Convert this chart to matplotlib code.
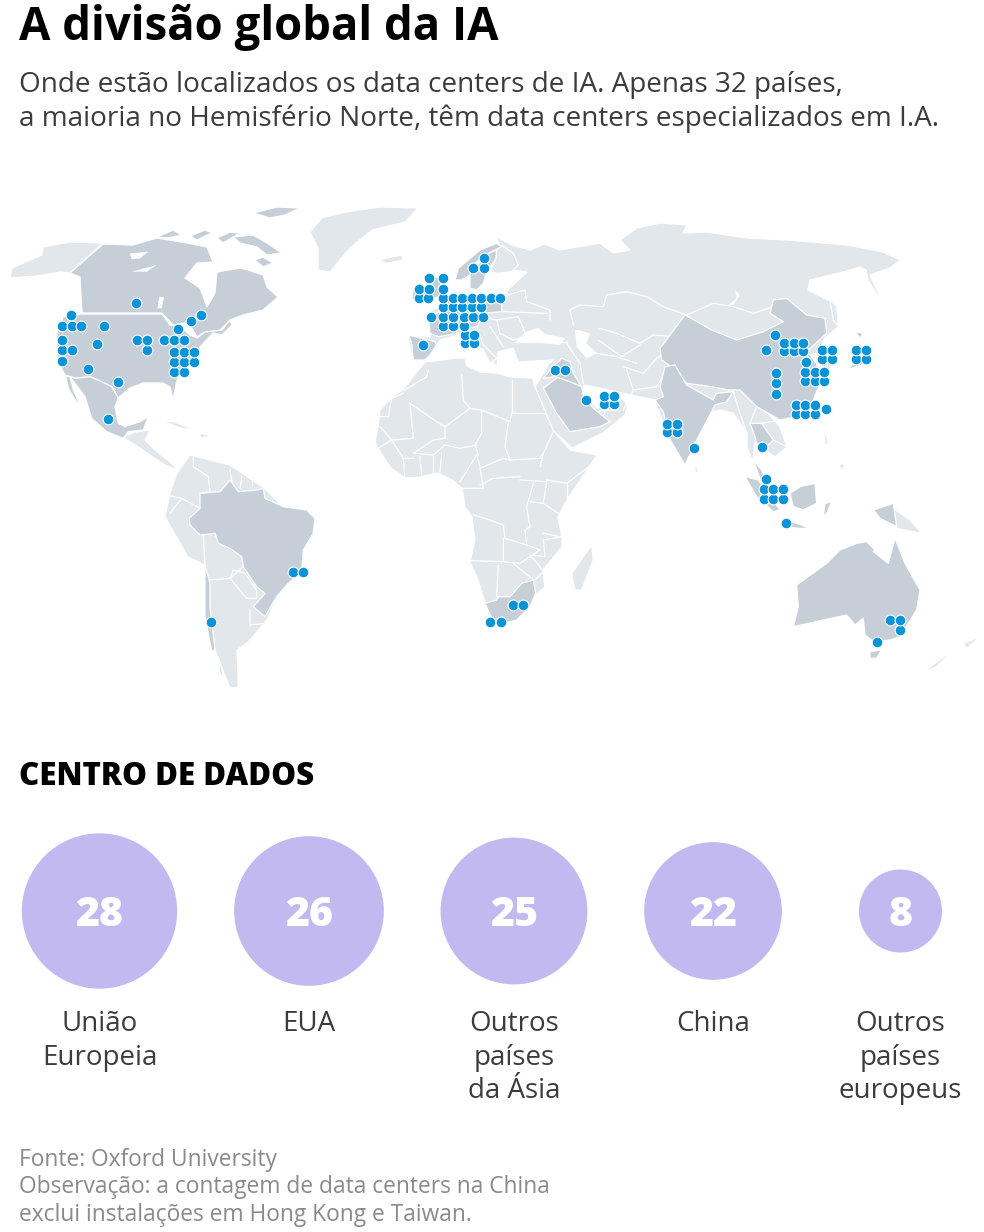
import numpy as np
import matplotlib
matplotlib.use("Agg")
import matplotlib.pyplot as plt
from matplotlib.patches import Polygon, Circle

FONT = "Open Sans"
LIGHT, DARK, DOT, BUBBLE = "#e2e7ec", "#c6cfd8", "#0a93d6", "#c3b9f1"

TITLE = "A divisão global da IA"
SUBTITLE = ["Onde estão localizados os data centers de IA. Apenas 32 países,",
            "a maioria no Hemisfério Norte, têm data centers especializados em I.A."]
SECTION = "CENTRO DE DADOS"
REGIONS = ["União\nEuropeia", "EUA", "Outros\npaíses\nda Ásia", "China", "Outros\npaíses\neuropeus"]
COUNTS = [28, 26, 25, 22, 8]
BUBBLE_X = [99.5, 309, 514, 713, 900.5]
SOURCE = ["Fonte: Oxford University",
          "Observação: a contagem de data centers na China",
          "exclui instalações em Hong Kong e Taiwan."]

# ---- data-centre dots (crop origin, crop coords /3)
DOTS_NA = [(407,309),(213,346),(185,377),(216,377),(243,377),(311,377),(186,420),(410,420),(440,420),(491,420),(522,420),(553,420),(535,387),(573,364),(603,345),(185,451),(216,451),(290,431),(440,451),(522,455),(553,455),(583,455),(186,482),(522,486),(553,486),(583,486),(265,506),(522,517),(553,517),(355,546),(323,657)]
DOTS_EU = [(341,83),(310,114),(341,114),(177,145),(219,145),(146,176),(177,176),(219,176),(146,204),(175,204),(219,204),(248,204),(277,204),(305,204),(334,204),(362,204),(390,204),(219,232),(248,232),(277,232),(305,232),(334,232),(184,262),(219,262),(248,262),(282,262),(310,262),(339,262),(219,288),(248,288),(282,288),(284,314),(313,314),(284,340),(313,340),(158,345),(555,420),(586,420),(649,510),(702,497),(731,497),(702,522),(731,522)]
DOTS_AS = [(406,165),(378,210),(433,188),(461,188),(489,188),(433,214),(461,214),(489,214),(547,211),(575,211),(547,237),(575,237),(649,211),(677,211),(649,237),(677,237),(497,245),(496,276),(524,276),(552,276),(496,302),(524,302),(552,302),(408,279),(408,310),(408,341),(468,376),(496,376),(524,376),(468,402),(496,402),(524,402),(559,386),(82,431),(110,431),(82,457),(110,457),(163,505),(367,502),(379,598),(371,627),(399,627),(428,627),(371,657),(399,657),(428,657),(438,728)]
DOTS_SA = [(429,365),(460,365),(183,516),(1021,516),(1052,516),(1089,466),(1119,466)]
DOTS_AU = [(451,359),(481,359),(481,391),(412,425)]

O_NA, O_EU, O_AS, O_SA, O_AU, O_AF, O_RU = (0,200),(370,230),(640,280),(150,450),(740,500),(370,370),(560,200)

def z(o, pts):
    return [(o[0]+x/3, o[1]+y/3) for x, y in pts]

# ---- map outlines (map pixels unless passed through z)
EURASIA = [(408,337),(430,337),(433,325),(425,315),(440,306),(460,298),(482,298),(505,293),(515,283),(527,272),(515,270),(498,275),(494,262),(500,248),(497,237),(512,245),(530,250),(545,244),(560,250),(600,243),(613,253),(630,250),(620,240),(637,228),(660,223),(687,225),(683,233),(707,232),(747,238),(787,240),(847,245),(883,252),(900,260),(890,268),(870,275),(877,290),(882,303),(868,280),(866,270),(860,267),(843,272),(810,280),(808,290),(832,302),(838,327),(825,338),(822,345),(835,345),(837,362),(826,372),(818,362),(822,352),(810,355),(817,363),(820,383),(813,400),(797,417),(780,420),(768,413),(780,427),(787,447),(775,457),(768,452),(763,443),(755,443),(753,460),(767,483),(757,473),(747,447),(747,433),(733,413),(720,410),(712,412),(695,443),(685,465),(668,437),(655,400),(640,397),(622,393),(600,388),(584,385),(583,395),(597,408),(612,405),(622,398),(628,405),(625,415),(603,433),(572,448),(553,430),(535,387),(548,365),(553,360),(518,362),(513,348),(498,352),(497,368),(487,352),(478,340),(470,330),(458,335),(440,340),(428,358),(412,358)]
AFRICA = [(425,362),(457,358),(465,358),(467,366),(480,372),(497,373),(510,377),(533,378),(535,387),(553,430),(570,450),(597,455),(567,500),(558,517),(562,537),(562,547),(543,570),(545,587),(533,597),(530,603),(517,620),(497,623),(485,603),(478,580),(470,562),(475,540),(472,517),(465,507),(462,488),(452,480),(438,473),(420,477),(405,478),(390,467),(378,448),(375,442),(378,427),(380,410),(392,397),(403,390),(412,378)]
S_AMERICA = [(190,455),(230,465),(263,487),(283,507),(315,518),(313,533),(303,550),(302,570),(288,583),(277,597),(267,620),(257,632),(248,642),(237,650),(238,672),(238,687),(230,688),(218,658),(210,637),(205,565),(188,557),(165,517),(170,493),(177,473)]
ALASKA = [(103,243),(70,273),(60,272),(37,276),(10,278),(12,268),(30,260),(42,255),(43,247),(70,242)]
GREENLAND = [(310,232),(322,218),(345,212),(380,207),(418,208),(405,222),(372,230),(350,248),(330,272),(318,270),(318,248)]
CANADA = [(103,244),(133,245),(157,238),(187,243),(207,247),(213,262),(197,263),(185,278),(200,288),(207,307),(215,293),(217,272),(240,268),(248,270),(263,275),(267,287),(278,297),(263,310),(243,315),(230,320),(220,330),(203,333),(197,337),(192,328),(185,323),(173,325),(162,313),(82,313),(80,277),(70,273)]
CANADA_ISLES = [[(233,237),(253,235),(267,243),(282,253),(267,255),(257,247),(240,243)],[(157,237),(173,230),(182,235),(167,238)],[(263,257),(273,263),(263,267),(255,260)],[(217,238),(230,232),(240,233),(223,243)],[(253,213),(277,207),(300,208),(285,215),(270,218)],[(190,236),(205,230),(212,233),(197,240)]]
USA = [(82,314),(162,314),(170,325),(180,326),(190,335),(197,338),(205,332),(222,330),(230,320),(232,325),(222,335),(213,333),(200,347),(193,357),(190,363),(177,380),(173,400),(170,387),(163,383),(143,383),(130,388),(118,398),(112,387),(102,382),(90,377),(75,378),(65,375),(57,360),(57,333),(63,317)]
MEXICO = z(O_NA,[(210,530),(228,535),(270,530),(305,545),(335,560),(355,595),(345,620),(355,670),(375,680),(420,665),(445,650),(430,690),(385,695),(370,715),(320,695),(275,655),(255,590)])
BAJA = z(O_NA,[(197,527),(210,530),(220,570),(245,625),(222,595),(205,565)])
C_AMERICA = [(123,437),(135,432),(150,430),(145,440),(155,450),(170,462),(178,470),(165,465),(150,455),(135,445)]
CARIB = [[(160,420),(175,422),(195,430),(180,428)],[(200,433),(212,436),(200,438)]]
BRAZIL = z(O_SA,[(150,175),(150,130),(210,125),(240,90),(265,125),(320,120),(340,115),(345,145),(400,170),(470,180),(495,205),(490,250),(460,300),(455,365),(415,400),(380,440),(345,500),(310,470),(345,430),(320,410),(300,380),(280,350),(275,320),(240,295),(205,280),(195,250),(150,255),(120,225),(118,205)])
CHILE = z(O_SA,[(165,345),(180,400),(180,470),(195,600),(185,605),(165,500)])
CHILE_S = z(O_SA,[(205,620),(222,685),(210,670)])
SA_LINES = [[(130,15),(130,50),(175,80),(180,125),(150,130)],[(50,135),(95,145),(60,190)],[(95,145),(150,175)],[(240,60),(250,120)],[(275,80),(270,115)],[(305,85),(305,105)],[(160,255),(165,345)],[(180,390),(240,385),(280,350)],[(240,385),(250,360),(285,370),(320,420),(320,445),(290,445),(240,385)],[(300,480),(300,525),(345,520)]]
AF_LINES = [[(175,0),(170,20),(105,60)],[(100,70),(65,85),(55,140),(25,140)],[(120,100),(130,205),(65,210),(30,170)],[(120,100),(215,165),(225,170),(300,115),(330,120)],[(275,15),(280,90),(300,115)],[(425,30),(425,130)],[(425,130),(525,130)],[(335,120),(420,155),(425,130)],[(335,120),(335,190),(315,225),(325,255)],[(225,225),(270,235),(320,225)],[(225,170),(225,205),(190,210)],[(415,155),(405,230),(420,270)],[(420,270),(510,265),(520,250)],[(330,295),(400,265),(420,270)],[(550,185),(520,250),(510,290)],[(450,330),(530,335)],[(330,345),(370,325),(450,320)],[(270,335),(320,255),(330,290)],[(275,355),(340,355),(330,295)],[(530,330),(590,340),(670,280)],[(590,340),(590,390)],[(530,335),(520,400),(565,430)],[(310,435),(345,445),(400,465),(405,505),(470,525),(465,480),(480,470),(470,410),(490,340)],[(480,395),(520,400)],[(570,500),(520,490)],[(400,505),(400,575),(305,572)],[(400,575),(450,580),(510,540),(470,525)],[(575,500),(520,510),(525,560),(480,555),(510,590),(520,605),(495,630)],[(385,585),(380,680)],[(430,580),(490,630)],[(25,235),(65,210)],[(100,265),(105,325)],[(150,260),(155,320)],[(190,255),(190,305)],[(215,250),(210,305)],[(130,265),(100,265),(65,210)],[(190,210),(130,250),(190,255),(225,225)]]
S_AFRICA = z(O_AF,[(345,700),(380,690),(385,680),(420,680),(455,640),(490,630),(497,670),(480,710),(440,750),(400,760),(370,755)])
MADAGASCAR = z(O_AF,[(665,525),(670,570),(635,660),(615,660),(605,610),(640,560)])
SAUDI = z(O_AF,[(520,55),(565,20),(635,50),(640,75),(670,115),(720,155),(690,170),(600,185),(560,130)])
IRAQ = z(O_EU,[(540,420),(575,385),(600,395),(610,430),(635,470),(600,455),(555,440),(520,445)])
UAE = z(O_EU,[(690,530),(745,510),(745,540),(700,540)])
CHINA = z(O_AS,[(60,205),(135,105),(180,130),(215,150),(290,180),(370,155),(430,125),(390,100),(400,60),(440,55),(500,105),(555,115),(560,160),(500,215),(510,225),(530,250),(540,310),(520,360),(470,410),(420,420),(385,400),(350,380),(300,330),(265,330),(215,320),(140,310),(100,265),(65,240)])
INDIA = z(O_AS,[(75,260),(105,255),(140,315),(220,360),(228,340),(280,335),(260,365),(225,375),(215,395),(165,490),(135,555),(85,470),(70,395),(45,360),(70,350),(60,320)])
THAILAND = z(O_AS,[(330,430),(365,430),(400,480),(375,505),(350,490),(345,470)])
SE_ASIA_DARK = [z(O_AS,p) for p in [[(315,590),(355,600),(420,690),(400,695),(350,650)],[(450,640),(480,620),(525,610),(530,670),(490,690),(460,680)],[(430,715),(510,745),(475,745),(420,735)],[(555,670),(575,665),(560,700),(550,710)],[(700,690),(760,670),(770,740),(720,715)],[(340,540),(365,570),(385,620),(365,610)],[(645,155),(670,160),(660,175)],[(640,250),(690,205),(695,245),(620,270),(605,290)]]]
ASIA_LIGHT = [z(O_AS,[(550,440),(560,470),(565,490),(555,495)]), z(O_AS,[(595,555),(612,550),(610,575)]), z(O_AS,[(165,545),(175,575),(165,580)]), z(O_AU,[(460,25),(510,60),(545,100),(470,85)]), z(O_AU,[(550,515),(640,450),(590,500)]), z(O_AU,[(670,430),(720,410),(680,445)]), z(O_EU,[(25,90),(95,75),(100,90),(50,100)]), z(O_RU,[(810,300),(830,320),(835,380),(820,360)])]
AUSTRALIA = z(O_AU,[(170,255),(260,190),(300,150),(350,130),(380,125),(405,150),(400,155),(445,190),(465,115),(495,190),(540,270),(530,330),(480,410),(450,420),(400,425),(375,405),(370,355),(345,375),(320,345),(250,360),(160,380),(175,320)])
TASMANIA = z(O_AU,[(390,455),(425,450),(410,475),(390,475)])
EU_DARK = [z(O_EU,p) for p in [[(255,150),(265,115),(330,60),(380,40),(395,50),(345,75),(310,105),(300,135),(275,150)],[(300,175),(300,135),(345,75),(380,60),(378,85),(350,125),(340,160),(320,180)],[(175,135),(210,145),(215,195),(170,215),(130,210),(165,170)],[(130,175),(160,170),(155,205),(125,210)],[(115,315),(195,335),(200,345),(180,375),(165,390),(130,390),(125,340)],[(180,310),(175,260),(210,245),(260,260),(250,300),(265,310),(205,320)],[(250,195),(335,195),(340,260),(250,265)],[(210,205),(250,195),(250,265),(210,245)],[(340,215),(395,205),(395,245),(340,250)],[(255,265),(340,262),(320,290),(262,300)]]]
FINLAND = z(O_EU,[(380,60),(395,45),(430,70),(445,105),(425,125),(380,130),(360,125),(378,85)])
ITALY = z(O_EU,[(270,290),(320,290),(340,345),(380,385),(360,400),(340,360),(300,335)])
SEAS = [z(O_EU,[(625,300),(660,310),(650,340),(680,370),(650,385),(620,350),(615,300)]), [(515,343),(525,332),(538,328),(545,334),(565,338),(560,345),(530,342)], z(O_NA,[(390,160),(445,155),(420,175),(395,178)]), z(O_NA,[(395,215),(470,195),(440,215)]), z(O_NA,[(478,290),(492,292),(485,325),(472,325)]), z(O_RU,[(525,270),(540,285),(520,315),(505,315),(530,295)])]
EURASIA_LINES = [z(O_RU,p) for p in [[(30,330),(60,315),(130,320),(140,285),(200,275),(260,290),(310,320),(380,345)],[(380,345),(460,310),(520,320),(580,340),(640,320)],[(30,330),(40,375)],[(120,385),(170,400),(240,430),(280,405),(340,410),(345,380)],[(115,420),(185,470),(240,435)]]] + [z(O_EU,p) for p in [[(590,340),(630,400),(640,460)],[(680,370),(740,380),(800,400)],[(770,420),(790,480),(760,540)],[(760,410),(820,430),(860,385),(900,355)],[(790,480),(860,470),(890,420)],[(420,135),(410,190)],[(395,200),(465,180),(470,215),(540,240),(540,270)],[(395,245),(530,250)],[(380,270),(445,260),(470,320)],[(430,330),(470,320)],[(340,262),(380,270),(390,310),(430,330)],[(360,290),(400,350)],[(435,335),(590,335)],[(520,470),(600,540)],[(610,570),(700,540)],[(720,500),(700,560)]]] + [z(O_AS,p) for p in [[(280,335),(300,400),(320,460)],[(350,380),(330,430)],[(365,430),(420,420)],[(375,505),(400,480),(440,500)]]]

fig = plt.figure(figsize=(9.84, 12.32), dpi=100)
ax = fig.add_axes([0, 0, 1, 1])
ax.set_xlim(0, 984); ax.set_ylim(1232, 0); ax.axis("off")

def fill(pts, c, z_=1):
    ax.add_patch(Polygon(pts, closed=True, fc=c, ec="white", lw=0.9, zorder=z_, joinstyle="round"))

for p in [ALASKA, GREENLAND, EURASIA, AFRICA, S_AMERICA, C_AMERICA, MADAGASCAR, FINLAND, ITALY] + CARIB + ASIA_LIGHT:
    fill(p, LIGHT, 1)
for p in SEAS:
    ax.add_patch(Polygon(p, closed=True, fc="white", ec="none", zorder=1.5))
for p in EURASIA_LINES:
    xs, ys = zip(*p); ax.plot(xs, ys, color="white", lw=0.9, zorder=2)
for p in AF_LINES:
    xs, ys = zip(*z(O_AF, p)); ax.plot(xs, ys, color="white", lw=0.9, zorder=2)
for p in SA_LINES:
    xs, ys = zip(*z(O_SA, p)); ax.plot(xs, ys, color="white", lw=0.9, zorder=2)
for p in [CANADA, USA, MEXICO, BAJA, BRAZIL, CHILE, CHILE_S, S_AFRICA, SAUDI, IRAQ, UAE, CHINA, INDIA, THAILAND, AUSTRALIA, TASMANIA] + CANADA_ISLES + SE_ASIA_DARK + EU_DARK:
    fill(p, DARK, 3)
for p in SEAS[2:5]:
    ax.add_patch(Polygon(p, closed=True, fc="white", ec="none", zorder=3.5))

pts = z(O_NA, DOTS_NA) + z(O_EU, DOTS_EU) + z(O_AS, DOTS_AS) + z(O_SA, DOTS_SA) + z(O_AU, DOTS_AU)
pts = sorted(pts, key=lambda q: -q[1])
ax.scatter([q[0] for q in pts], [q[1] for q in pts], s=60, c=DOT, edgecolors="white", linewidths=0.8, zorder=5)

for x, v, lab in zip(BUBBLE_X, COUNTS, REGIONS):
    r = 14.68 * np.sqrt(v)
    ax.add_patch(Circle((x, 911), r, fc=BUBBLE, ec="none", zorder=4))
    ax.text(x, 925.5, str(v), color="white", family=FONT, weight=800, fontsize=29.5, ha="center", va="baseline", zorder=6)
    for i, line in enumerate(lab.split("\n")):
        ax.text(x, 1031 + i * 33.5, line, color="#3c3c3c", family=FONT, fontsize=20, ha="center", va="baseline")

ax.text(19, 40, TITLE, color="black", family=FONT, weight="bold", fontsize=32.8, va="baseline")
for y, s in zip([92, 126], SUBTITLE):
    ax.text(19, y, s, color="#3c3c3c", family=FONT, fontsize=20.05, va="baseline")
ax.text(19, 785, SECTION, color="black", family=FONT, weight=800, fontsize=22.5, va="baseline")
for y, s in zip([1166, 1193, 1221], SOURCE):
    ax.text(19, y, s, color="#8a8a8a", family=FONT, fontsize=16.4, va="baseline")

fig.savefig("out.png", dpi=100, facecolor="white")
